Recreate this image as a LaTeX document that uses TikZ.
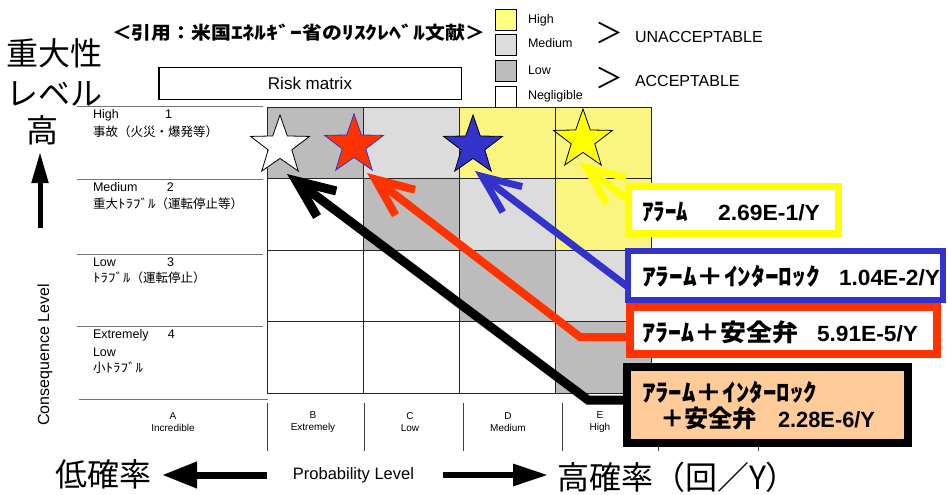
\documentclass[tikz,border=0pt]{standalone}
\usepackage{fontspec}
\usepackage{graphicx}
\setmainfont{Liberation Sans}
\newfontfamily\jp{Noto Sans CJK JP}
\usetikzlibrary{arrows.meta,shapes.geometric,calc}
\newcommand{\hk}[1]{\scalebox{1.2}[1]{#1}}
\newcommand{\fsz}[1]{\fontsize{#1}{#1}\selectfont}
\newcommand{\bw}[2]{\resizebox{#1}{\height}{#2}}
\newcommand{\nbw}[2]{{\rmfamily\fsz{22}\resizebox{#1}{\height}{#2}}}
\definecolor{cyel}{RGB}{250,245,128}
\definecolor{legyel}{RGB}{255,255,128}
\definecolor{lowg}{RGB}{188,188,188}
\definecolor{medg}{RGB}{220,220,220}
\definecolor{sred}{RGB}{255,51,0}
\definecolor{sblue}{RGB}{51,51,204}
\definecolor{syel}{RGB}{255,255,0}
\definecolor{peach}{RGB}{255,204,153}
\begin{document}
\begin{tikzpicture}[x=1pt,y=-1pt,
  every node/.style={inner sep=0pt, outer sep=0pt},
  cellline/.style={draw=black!85, line width=0.8pt},
  sepline/.style={draw=black!55, line width=1pt},
  big/.style={font=\jp\fsz{32}},
  lab/.style={font=\fsz{12.5}, anchor=west},
  jlab/.style={font=\jp\fsz{12.5}, anchor=west},
  legbox/.style={draw=black, line width=0.8pt, minimum width=21pt, minimum height=21pt},
  legt/.style={font=\fsz{12.5}, anchor=west},
  problab/.style={font=\fontsize{10}{12}\selectfont, align=center},
  starn/.style={star, star points=5, star point ratio=2.5, minimum size=62pt, draw=black, line width=0.8pt},
  harrow/.style={line width=#1, -{Straight Barb[length=38pt,width=32pt]}},
  boxn/.style={inner sep=0pt, fill=white},
  btext/.style={anchor=west, font=\jp\bfseries\fsz{24}}
]
\useasboundingbox (0,0) rectangle (948,495);
\fill[white] (0,0) rectangle (948,495);

% left headings
\node[big, anchor=west] (jyu) at (6,53) {重大性};
\node[big, anchor=west] (lvl) at (6,94) {レベル};
\node[big] (taka) at (43,130) {高};
\coordinate (upbase) at (40,228);
\coordinate (uptip) at (40,152);
\draw[line width=5pt, -{Triangle[length=31pt,width=16pt]}] (upbase) -- (uptip);
\node[font=\fsz{16}, rotate=90] (cons) at (45,355) {Consequence Level};

% title
\node[font=\jp\bfseries\fsz{18}, anchor=west] (title) at (112,33)
  {\bw{373pt}{＜引用：米国\hk{ｴﾈﾙｷﾞｰ}省の\hk{ﾘｽｸﾚﾍﾞﾙ}文献＞}};

% legend
\node[legbox, fill=legyel] (lh) at (506,20) {};
\node[legbox, fill=medg] (lm) at (506,45) {};
\node[legbox, fill=lowg] (ll) at (506,71) {};
\node[legbox, fill=white] (ln) at (506,96.5) {};
\node[legt] (lht) at (528,20) {High};
\node[legt] (lmt) at (528,43) {Medium};
\node[legt] (llt) at (528,70) {Low};
\node[legt] (lnt) at (528,96) {Negligible};
\node[font=\jp\fsz{28}] (gt1) at (609,33) {＞};
\node[font=\jp\fsz{28}] (gt2) at (609,78) {＞};
\node[font=\fsz{16}, anchor=west] (unacc) at (635,37) {UNACCEPTABLE};
\node[font=\fsz{16}, anchor=west] (acc) at (635,81) {ACCEPTABLE};

% risk matrix title box
\node[draw, line width=1.5pt, minimum width=302.5pt, minimum height=31.5pt, font=\fsz{17}] (rm) at (310,83.5) {Risk matrix};

% cells
\fill[lowg] (267,107) rectangle (363,178);
\fill[medg] (363,107) rectangle (459,178);
\fill[cyel] (459,107) rectangle (651,178);
\fill[lowg] (363,178) rectangle (459,250);
\fill[medg] (459,178) rectangle (555,250);
\fill[cyel] (555,178) rectangle (651,250);
\fill[lowg] (459,250) rectangle (555,321);
\fill[medg] (555,250) rectangle (651,321);
\fill[lowg] (555,321) rectangle (651,393);
\foreach \x in {267,363,459,555,651} \draw[cellline] (\x,107) -- (\x,393);
\foreach \y in {107,178,250,321,393} \draw[cellline] (267,\y) -- (651,\y);

% left label separators
\foreach \y in {106,179,254,326} \draw[sepline] (77,\y) -- (263,\y);
\draw[sepline] (79,399) -- (268,399);

% left labels
\node[lab] (h1) at (93,115) {\makebox[72pt][l]{High}1};
\node[jlab] (h1j) at (93,132) {事故（火災・爆発等）};
\node[lab] (m2) at (93,187) {\makebox[74pt][l]{Medium}2};
\node[jlab] (m2j) at (93,204) {重大\hk{ﾄﾗﾌﾞﾙ}（運転停止等）};
\node[lab] (l3) at (93,262) {\makebox[74pt][l]{Low}3};
\node[jlab] (l3j) at (93,278) {\hk{ﾄﾗﾌﾞﾙ}（運転停止）};
\node[lab] (e4) at (93,335) {\makebox[75pt][l]{Extremely}4};
\node[lab] (e4b) at (93,352) {Low};
\node[jlab] (e4j) at (93,368) {小\hk{ﾄﾗﾌﾞﾙ}};

% bottom table
\foreach \x in {267,364,463,562,658,758} \draw[draw=black!75, line width=1pt] (\x,403) -- (\x,451);
\node[problab] (pa) at (173,422) {A\\Incredible};
\node[problab] (pb) at (313,422) {B\\Extremely};
\node[problab] (pc) at (410,422) {C\\Low};
\node[problab] (pd) at (508,422) {D\\Medium};
\node[problab] (pe) at (600,422) {E\\High};

% stars
\node[starn, fill=white] (swhite) at (280,146) {};
\node[starn, fill=sred, draw=sblue] (sred) at (354,145) {};
\node[starn, fill=sblue] (sblu) at (473,146) {};
\node[starn, fill=syel] (syel) at (583,140) {};

% arrows
\coordinate (rbend) at (580,337);
\coordinate (kbend) at (588,400);
\draw[harrow=7pt, draw=syel] (628.5,200) -- ($(syel.center)+(-4,22)$);
\draw[harrow=7pt, draw=sblue] (628,287) -- ($(sblu.center)+(2,25)$);
\draw[harrow=8pt, draw=sred] (627,337) -- (rbend) -- ($(sred.center)+(13,28)$);
\draw[harrow=9pt, draw=black] (627,400) -- (kbend) -- ($(swhite.center)+(7,28)$);

% result boxes
\node[boxn, draw=syel, line width=7pt, minimum width=210pt, minimum height=47pt] (yb) at (733.5,210) {};
\node[boxn, draw=sblue, line width=6pt, minimum width=315pt, minimum height=49pt] (bb) at (785.5,275.5) {};
\node[boxn, draw=sred, line width=8pt, minimum width=307pt, minimum height=47pt] (rb) at (783.5,330.5) {};
\node[boxn, draw=black, fill=peach, line width=8pt, minimum width=281pt, minimum height=76pt] (kb) at (767.5,405) {};

\node[btext] (ybt) at (642,212) {\bw{46pt}{ｱﾗｰﾑ}\hspace{30pt}\nbw{102pt}{2.69E-1/Y}};
\node[btext] (bbt) at (642,276) {\bw{178pt}{ｱﾗｰﾑ＋ｲﾝﾀｰﾛｯｸ}\hspace{19pt}\nbw{101pt}{1.04E-2/Y}};
\node[btext] (rbt) at (642,332) {\bw{156pt}{ｱﾗｰﾑ＋安全弁}\hspace{19pt}\nbw{101pt}{5.91E-5/Y}};
\node[btext] (kbt1) at (642,392) {\bw{175pt}{ｱﾗｰﾑ＋ｲﾝﾀｰﾛｯｸ}};
\node[btext] (kbt2) at (660,418) {\bw{97pt}{＋安全弁}\hspace{21pt}\nbw{97pt}{2.28E-6/Y}};

% bottom axis
\node[big, anchor=west] (low) at (55,474) {低確率};
\coordinate (la1) at (267,475);
\coordinate (la2) at (162,475);
\draw[line width=7pt, -{Triangle[length=35pt,width=25pt]}] (la1) -- (la2);
\node[font=\fsz{16.5}] (plev) at (353.5,475) {Probability Level};
\coordinate (ra1) at (443,475);
\coordinate (ra2) at (548,475);
\draw[line width=6pt, -{Triangle[length=35pt,width=21pt]}] (ra1) -- (ra2);
\node[big, anchor=west] (high) at (557,477) {高確率（回／Y）};
\end{tikzpicture}
\end{document}
